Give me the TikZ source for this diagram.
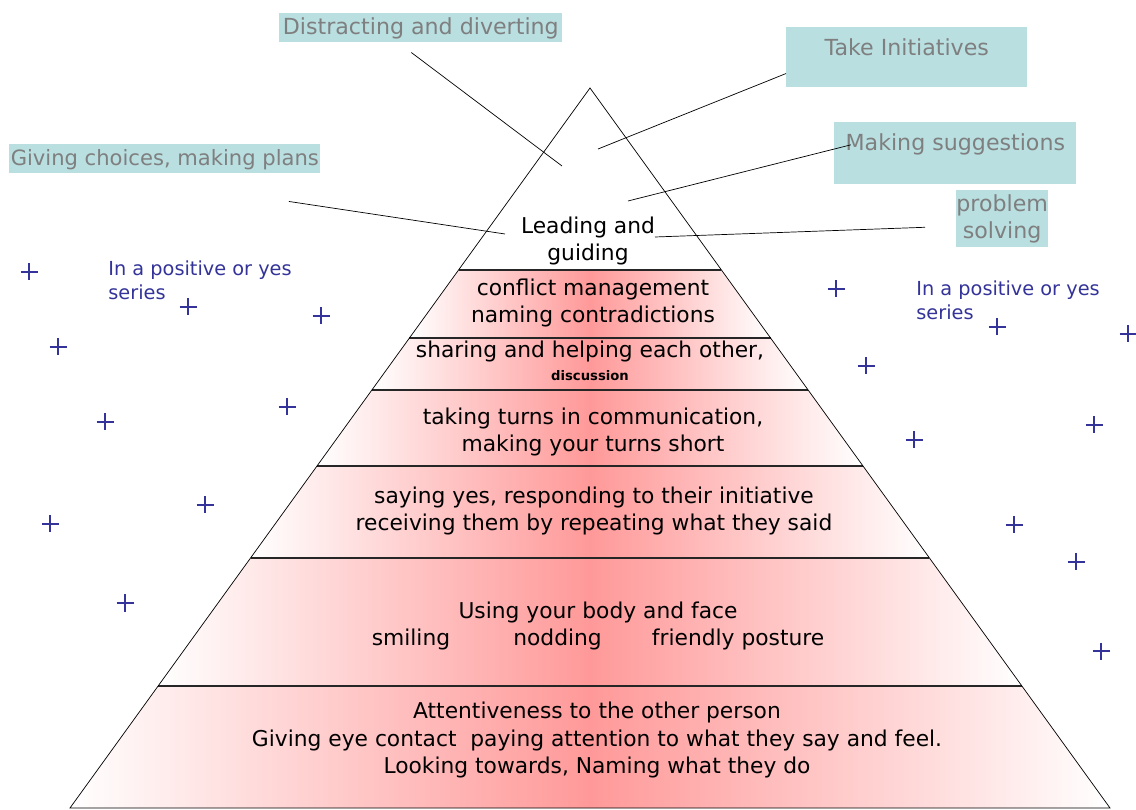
\documentclass[tikz,border=0pt]{standalone}
\usepackage{fontspec}
\setmainfont{DejaVu Sans}
\usetikzlibrary{positioning}

\definecolor{tagfill}{HTML}{B9DFE1}
\definecolor{taggray}{HTML}{7F7F7F}
\definecolor{plusblue}{HTML}{333399}

\begin{document}
\begin{tikzpicture}[
  x=0.02cm, y=-0.02cm,
  tag/.style={fill=tagfill, text=taggray, font=\fontsize{12.6}{15}\selectfont, inner sep=0pt, align=center, anchor=north west},
  level/.style={font=\fontsize{12.4}{15.9}\selectfont, align=center},
  series/.style={text=plusblue, font=\fontsize{11}{13.6}\selectfont, align=left, anchor=west, inner sep=0pt},
  band/.style={left color=white, right color=white, middle color=red!40},
  rung/.style={line width=0.8pt, black!85},
  pointer/.style={thin, black},
  plus/.style={plusblue, line width=1pt}
]
  \useasboundingbox (0,0) rectangle (1136,810);

  % Bands of the pyramid - apex at (590,88), base from 70 to 1110
  \foreach \ya/\yb in {270/338, 338/390, 390/466, 466/558, 558/686, 686/808} {
    \pgfmathsetmacro\xa{0.72222*(\ya-88)}
    \pgfmathsetmacro\xb{0.72222*(\yb-88)}
    \shade[band] (590-\xa,\ya) -- (590+\xa,\ya) -- (590+\xb,\yb) -- (590-\xb,\yb) -- cycle;
    \draw[rung] (590-\xa,\ya) -- (590+\xa,\ya);
  }
  \draw[thin] (590,88) -- (70,808) -- (1110,808) -- cycle;

  % Level texts
  \node[level] (lead) at (588,241) {Leading and\\guiding};
  \node[level] (conflict) at (593,303) {conflict management\\naming contradictions};
  \node[level] (sharing) at (590,361) {sharing and helping each other,\\[-3pt]{\fontsize{7.5}{9}\selectfont\bfseries discussion}};
  \node[level] (turns) at (593,432) {taking turns in communication,\\making your turns short};
  \node[level] (saying) at (594,511) {saying yes, responding to their initiative\\receiving them by repeating what they said};
  \node[level] (body) at (598,626) {Using your body and face\\smiling\hspace{2.9em}nodding\hspace{2.3em}friendly posture};
  \node[level] (attend) at (597,740) {Attentiveness to the other person\\Giving eye contact \ paying attention to what they say and feel.\\Looking towards, Naming what they do};

  % Tags round the top
  \node[tag, minimum width=5.66cm, text height=12pt, text depth=4.4pt] (distract) at (279,13) {Distracting and diverting};
  \node[tag, minimum width=4.82cm, text height=16pt, text depth=18pt] (initiative) at (786,27) {Take Initiatives};
  \node[tag, minimum width=6.22cm, text height=12pt, text depth=4.4pt, font=\fontsize{12}{15}\selectfont] (choices) at (9,144) {Giving choices, making plans};
  \node[tag, minimum width=4.84cm, text height=16pt, text depth=19pt] (suggest) at (834,122) {Making suggestions};
  \node[tag, minimum width=1.8cm, minimum height=1.14cm] (problem) at (956,190) {problem\\solving};

  % Pointer ends inside the top
  \coordinate (tipA) at (562,166);
  \coordinate (tipB) at (598,149);
  \coordinate (tipC) at (505,234);
  \coordinate (tipD) at (628,201);
  \coordinate (tipE) at (655,237);

  \draw[pointer] ([xshift=-5.4pt, yshift=-5.7pt]distract.south) -- (tipA);
  \draw[pointer] ([yshift=7.9pt]initiative.south west) -- (tipB);
  \draw[pointer] ([xshift=-18.1pt, yshift=-15.9pt]choices.south east) -- (tipC);
  \draw[pointer] ([xshift=9.6pt, yshift=-13pt]suggest.north west) -- (tipD);
  \draw[pointer] ([xshift=-17.6pt, yshift=-4.8pt]problem.west) -- (tipE);

  % Yes series
  \node[series] (seriesL) at (108,280) {In a positive or yes\\series};
  \node[series] (seriesR) at (916,300) {In a positive or yes\\series};

  \foreach \px/\py in {29/272, 188/307, 321/316, 58/347, 105/422, 287/407, 205/505, 50/524, 125/603,
                       836/289, 997/327, 1128/334, 866/366, 914/440, 1094/425, 1014/525, 1076/562, 1101/651}
    \draw[plus] (\px-8.5,\py) -- (\px+8.5,\py) (\px,\py-8.5) -- (\px,\py+8.5);
\end{tikzpicture}
\end{document}
